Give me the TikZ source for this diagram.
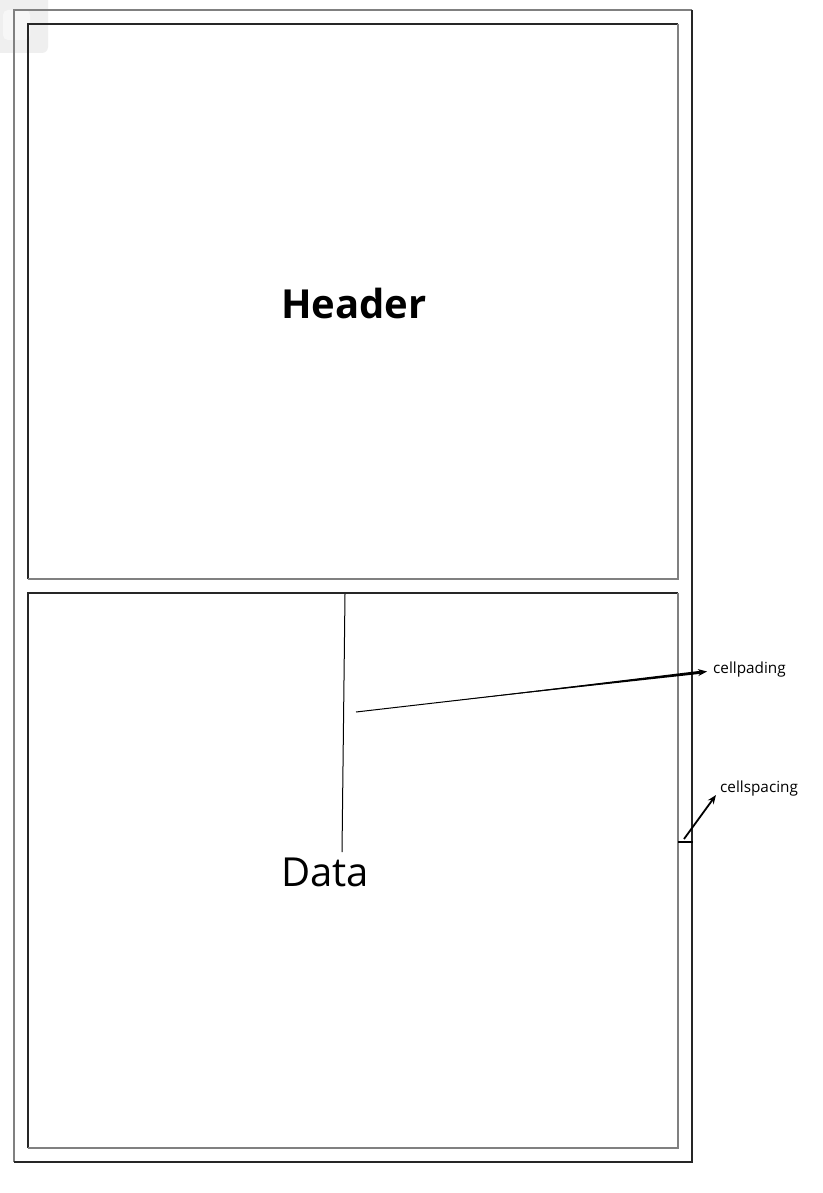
\documentclass[tikz,border=0pt]{standalone}
\usepackage{fontspec}
\setmainfont{Open Sans}
\usetikzlibrary{arrows.meta}
\definecolor{bgray}{HTML}{808080}
\definecolor{bdark}{HTML}{262626}
\definecolor{ghost}{HTML}{EFEFEF}
\definecolor{ghostin}{HTML}{F7F7F7}
\begin{document}
\begin{tikzpicture}[x=1pt,y=-1pt,
  lite/.style={draw=bgray,line width=2pt},
  dark/.style={draw=bdark,line width=2pt},
  cellbox/.style={draw=none,minimum width=650pt,minimum height=555pt,inner sep=0pt},
  bigtext/.style={font=\fontsize{40}{48}\selectfont,inner sep=0pt},
  smalltext/.style={font=\fontsize{15.3}{18}\selectfont,inner sep=0pt,anchor=west},
  pointer/.style={draw=black,line width=1pt},
  tip/.style={-{Stealth[length=9pt,width=7pt]}}
]
\useasboundingbox (0,0) rectangle (822,1193);
\fill[white] (0,0) rectangle (822,1193);
% faint rounded patch at top left
\fill[ghost,rounded corners=6pt] (-8,-8) rectangle (48,53);
\fill[ghostin,rounded corners=5pt] (3,10) rectangle (30,40);

% outer table border (outset)
\coordinate (tnw) at (14,10);
\coordinate (tne) at (692,10);
\coordinate (tsw) at (14,1162);
\coordinate (tse) at (692,1162);
\draw[lite] (tsw) -- (tnw) -- (tne);
\draw[dark] (tne) -- (tse) -- (tsw);

% cells (inset)
\node[cellbox] (hcell) at (353,301.5) {};
\node[cellbox] (dcell) at (353,870.5) {};
\foreach \c in {hcell,dcell}{
  \draw[dark] (\c.south west) -- (\c.north west) -- (\c.north east);
  \draw[lite] (\c.north east) -- (\c.south east) -- (\c.south west);
}

% texts
\node[bigtext,font=\fontsize{40}{48}\selectfont\bfseries] (header) at (354,303) {Header};
\node[bigtext] (data) at (325,872) {Data};
\node[smalltext] (pad) at (713,670) {cellpading};
\node[smalltext] (spc) at (720,789) {cellspacing};

% connectors
\coordinate (vtop) at (345,594);
\coordinate (vbot) at (342,852);
\draw[pointer] (vtop) -- (vbot);

\coordinate (pstart) at (356,712);
\coordinate (pend) at (707,671.5);
\draw[pointer,line width=1pt,tip] (pstart) -- (pend);
% tapering thickening of the cellpading pointer
\fill[black] (450,701.2) -- (700.2,670.8) -- (700.5,673.8) -- cycle;

\coordinate (sl) at (678,842);
\coordinate (sr) at (693,842);
\draw[draw=black,line width=1.5pt] (sl) -- (sr);
\coordinate (sstart) at (684,839);
\coordinate (send) at (716,795);
\draw[pointer,line width=1.8pt,tip] (sstart) -- (send);
\end{tikzpicture}
\end{document}
